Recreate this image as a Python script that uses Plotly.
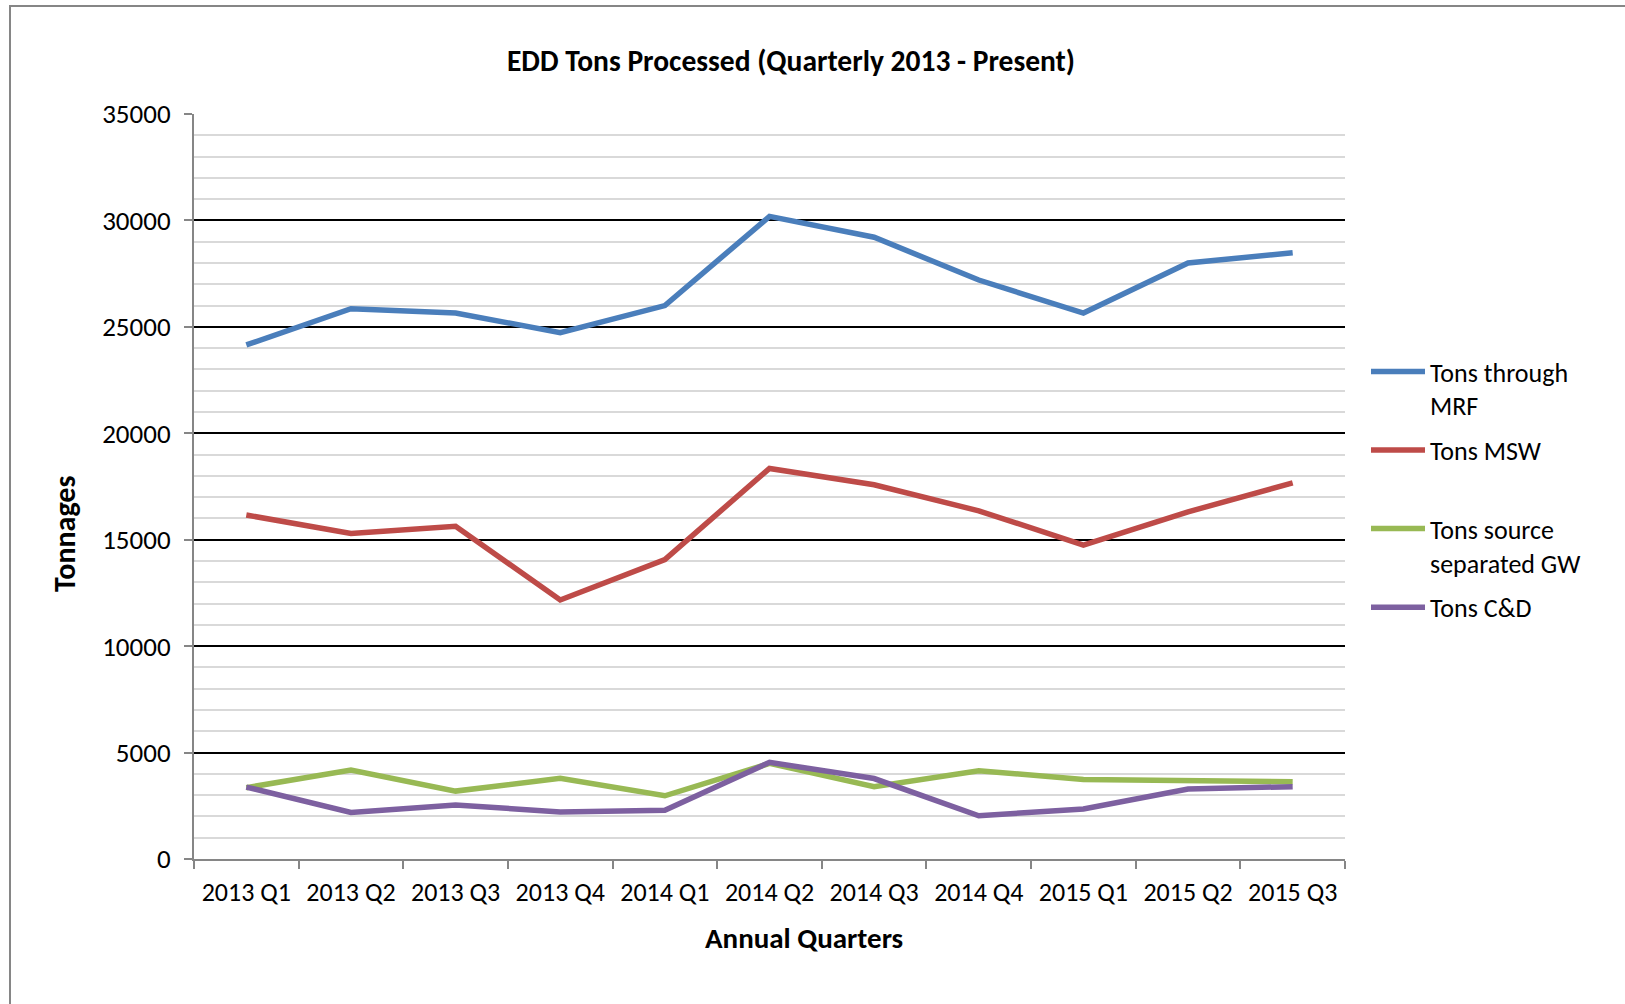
import plotly.graph_objects as go

quarters = ["2013 Q1", "2013 Q2", "2013 Q3", "2013 Q4", "2014 Q1", "2014 Q2",
            "2014 Q3", "2014 Q4", "2015 Q1", "2015 Q2", "2015 Q3"]
tons_mrf = [24150, 25850, 25650, 24730, 26000, 30190, 29210, 27200, 25650, 28000, 28480]
tons_msw = [16160, 15290, 15630, 12170, 14070, 18350, 17580, 16360, 14750, 16310, 17670]
tons_gw = [3350, 4180, 3190, 3790, 2970, 4490, 3400, 4150, 3740, 3660, 3630]
tons_cd = [3380, 2190, 2540, 2210, 2290, 4540, 3780, 2030, 2350, 3290, 3400]

series_names = ["Tons through<br>MRF", "Tons MSW<br> ", "Tons source<br>separated GW", "Tons C&D<br> "]
series_values = [tons_mrf, tons_msw, tons_gw, tons_cd]
series_colors = ["#4A7EBB", "#BE4B48", "#98B954", "#7D60A0"]

FONT = "Calibri, Carlito, Lato, sans-serif"
W, H = 1625, 1004
L, R, T, B = 194, 280, 114, 145

fig = go.Figure()
for i, (name, vals, col) in enumerate(zip(series_names, series_values, series_colors)):
    fig.add_trace(go.Scatter(x=quarters, y=vals, name=name, mode="lines",
                             legendgroup=f"g{i}",
                             line=dict(color=col, width=5.5)))

fig.update_layout(
    width=W, height=H,
    margin=dict(l=L, r=R, t=T, b=B),
    paper_bgcolor="white", plot_bgcolor="white",
    font=dict(family=FONT, size=24, color="#000000"),
    title=dict(text="<b>EDD Tons Processed (Quarterly 2013 - Present)</b>",
               x=791 / W, y=1 - 61 / H, xref="container", yref="container",
               xanchor="center", yanchor="middle",
               font=dict(family=FONT, size=29.5, color="#000000")),
    showlegend=True,
    legend=dict(x=(1366 - L) / (W - L - R), y=(859 - 348) / (H - T - B),
                xanchor="left", yanchor="top", valign="top",
                font=dict(family=FONT, size=26), itemwidth=54,
                tracegroupgap=8, bgcolor="rgba(0,0,0,0)"),
    xaxis=dict(range=[-0.5, 10.5], showgrid=False, showline=True, linecolor="#868686",
               linewidth=2, ticks="outside", tickson="boundaries", ticklen=8,
               tickcolor="#868686", tickwidth=2, tickfont=dict(family=FONT, size=26),
               zeroline=False, ticklabelstandoff=9),
    yaxis=dict(range=[0, 35000], dtick=5000, tick0=0, tickformat="d", showgrid=True,
               gridcolor="#000000", gridwidth=2, showline=True, linecolor="#868686",
               linewidth=2, ticks="outside", ticklen=8, tickcolor="#868686", tickwidth=2,
               tickfont=dict(family=FONT, size=27), zeroline=False,
               ticklabelstandoff=8,
               minor=dict(dtick=1000, showgrid=True, gridcolor="#D9D9D9", gridwidth=2,
                          ticks="")),
)

pw, ph = W - L - R, H - T - B
fig.add_annotation(text="<b>Tonnages</b>", textangle=-90, showarrow=False,
                   xref="paper", yref="paper", x=(64 - L) / pw, y=(859 - 534) / ph,
                   xanchor="center", yanchor="middle",
                   font=dict(family=FONT, size=30, color="#000000"))
fig.add_annotation(text="<b>Annual Quarters</b>", showarrow=False,
                   xref="paper", yref="paper", x=(804 - L) / pw, y=(859 - 938) / ph,
                   xanchor="center", yanchor="middle",
                   font=dict(family=FONT, size=29, color="#000000"))
# chart-area border (top and left edges visible)
fig.add_shape(type="rect", xref="paper", yref="paper",
              x0=(10 - L) / pw, x1=(1660 - L) / pw, y0=(859 - 1040) / ph, y1=(859 - 6) / ph,
              line=dict(color="#868686", width=2), fillcolor="rgba(0,0,0,0)", layer="below")

fig.write_html("out.html", config={"displayModeBar": False},
               post_script="document.body.style.margin='0';")
